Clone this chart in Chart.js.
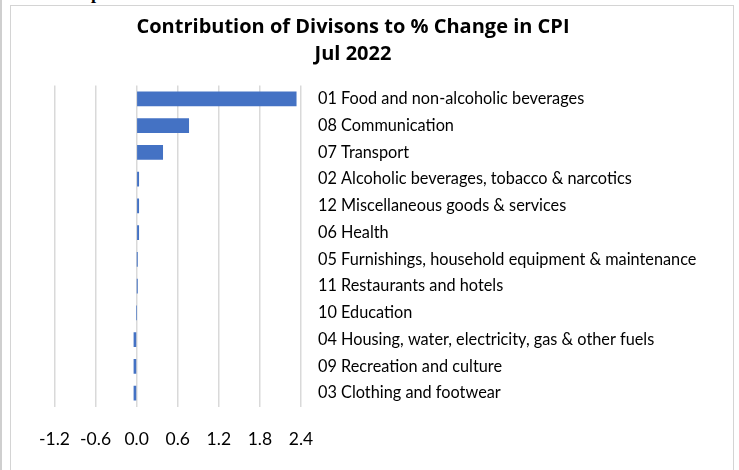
<!DOCTYPE html>
<html>
<head>
<meta charset="utf-8">
<script src="https://cdn.jsdelivr.net/npm/chart.js@4"></script>
<style>
  html, body { margin: 0; padding: 0; background: #fff; }
  body { width: 739px; height: 470px; overflow: hidden; position: relative; border-left: 2px solid #cfcfcf; box-sizing: border-box; }
  #cap { position: absolute; left: 58px; top: -17px; font: bold 18px "Liberation Serif", serif; color: #000; }
  #box { position: absolute; left: 8px; top: 5px; width: 722px; height: 500px; border: 1.5px solid #d4d4d4; background: #fff; }
  /* canvas is shifted left so the chart's title centre sits where the original has it */
  #box canvas { position: absolute; left: -28.5px; top: 0; }
</style>
</head>
<body>
<div id="cap">Graph 10</div>
<div id="box"><canvas id="cpi-chart" width="740" height="489"></canvas></div>
<script>
const divisions = [
    '01 Food and non-alcoholic beverages',
    '08 Communication',
    '07 Transport',
    '02 Alcoholic beverages, tobacco & narcotics',
    '12 Miscellaneous goods & services',
    '06 Health',
    '05 Furnishings, household equipment & maintenance',
    '11 Restaurants and hotels',
    '10 Education',
    '04 Housing, water, electricity, gas & other fuels',
    '09 Recreation and culture',
    '03 Clothing and footwear'
];
const contribution = [2.33, 0.76, 0.38, 0.03, 0.03, 0.03, 0.006, 0.006, 0, -0.04, -0.04, -0.04];
const xTicks = [-1.2, -0.6, 0.0, 0.6, 1.2, 1.8, 2.4];

Chart.defaults.font.family = 'Lato, "Open Sans", sans-serif';
Chart.defaults.color = '#000';

const data = {
    labels: divisions,
    datasets: [{
        label: 'Contribution',
        data: contribution,
        backgroundColor: '#4472C4',
        borderWidth: 0,
        barThickness: 14
    }]
};

const config = {
    type: 'bar',
    data: data,
    options: {
        indexAxis: 'y',
        responsive: false,
        animation: false,
        layout: {
            padding: { left: 0, right: 0, top: 0, bottom: 22.5 }
        },
        plugins: {
            legend: { display: false },
            tooltip: { enabled: false },
            title: {
                display: true,
                text: ['Contribution of Divisons to % Change in CPI', 'Jul 2022'],
                color: '#000',
                font: { family: '"Open Sans", Lato, sans-serif', size: 20, weight: 'bold', lineHeight: 1.35 },
                padding: { top: 8, bottom: 17.5 }
            }
        },
        scales: {
            x: {
                min: xTicks[0],
                max: xTicks[xTicks.length - 1],
                afterBuildTicks: (scale) => {
                    scale.ticks = xTicks.map(v => ({ value: v }));
                },
                ticks: {
                    padding: 22.5,
                    font: { size: 17.5 },
                    callback: (v) => Number(v).toFixed(1)
                },
                grid: { color: '#d9d9d9', lineWidth: 1.5, drawTicks: false },
                border: { display: false }
            },
            y: {
                position: 'right',
                afterFit: (scale) => { scale.width = 422; },
                ticks: {
                    padding: 17,
                    font: { size: 16.3 }
                },
                grid: { display: false, drawTicks: false },
                border: { display: false }
            },
            // empty left gutter, so the plot starts where the original does
            gutter: {
                type: 'linear',
                position: 'left',
                ticks: { display: false },
                grid: { display: false, drawTicks: false },
                border: { display: false },
                afterFit: (scale) => { scale.width = 71.5; }
            }
        }
    }
};

let obj = document.getElementById('cpi-chart');
let cpiChart = new Chart(obj, config);
</script>
</body>
</html>
